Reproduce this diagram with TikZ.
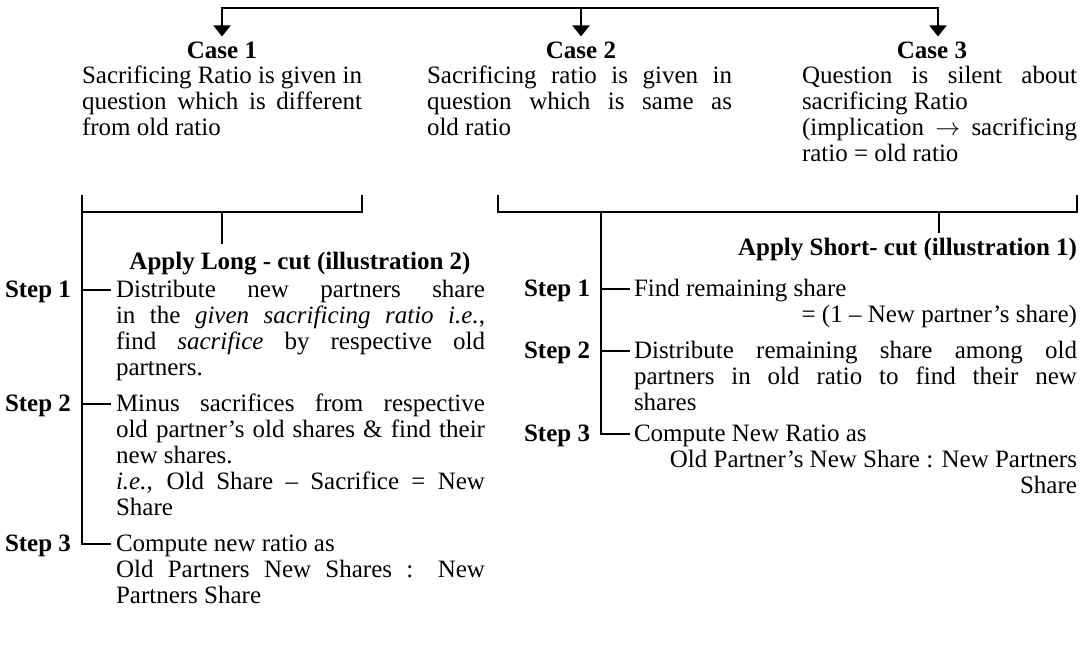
\documentclass[tikz,border=0pt]{standalone}
\usepackage{fontspec}
\setmainfont{Liberation Serif}
\usetikzlibrary{arrows.meta}
\begin{document}
\begin{tikzpicture}[x=1pt,y=-1pt,
  line width=2pt,
  txt/.style={font=\fontsize{25}{26}\selectfont, inner sep=0pt, outer sep=0pt, anchor=base west, align=justify},
  lbl/.style={font=\fontsize{25}{26}\selectfont\bfseries, inner sep=0pt, outer sep=0pt},
  arr/.style={-{Triangle[width=17pt,length=11pt]}},
]
\useasboundingbox (0,0) rectangle (1090,667);

% ---- cases ----
\node[lbl, anchor=base, inner ysep=5pt] (c1) at (222,58) {Case 1};
\node[lbl, anchor=base, inner ysep=5pt] (c2) at (581,58) {Case 2};
\node[lbl, anchor=base, inner ysep=5pt] (c3) at (932,58) {Case 3};

\coordinate (a1) at (222,8);
\coordinate (a3) at (938,8);
\draw[arr] (a3) -- (a1) -- (c1.north);
\draw[arr] (a1) -- (a3) -- (a3 |- c3.north);
\draw[arr] (c2.north |- a1) -- (c2.north);

\node[txt, text width=280pt] (t1) at (82,83) {Sacrificing Ratio is given in\linebreak question which is different\linebreak from old ratio};
\node[txt, text width=305pt] (t2) at (427,83) {Sacrificing ratio is given in\linebreak question which is same as\linebreak old ratio};
\node[txt, text width=275pt] (t3) at (802,83) {Question is silent about\linebreak sacrificing Ratio\\ (implication $\rightarrow$ sacrificing\linebreak ratio = old ratio};

% ---- left branch ----
\coordinate (lv) at (82,195);
\coordinate (lb) at (82,212);
\coordinate (lm) at (222,212);
\coordinate (lr) at (362,212);
\draw (lb) -- (lr) -- (lr |- lv);

\node[lbl, anchor=base, inner ysep=8pt] (h1) at (300,269) {Apply Long - cut (illustration 2)};
\draw (lm) -- (lm |- h1.north);

\node[lbl, anchor=base east] (ls1l) at (71,297) {Step 1};
\node[txt, text width=369pt] (ls1) at (116,297) {Distribute new partners share\linebreak in the \textit{given sacrificing ratio i.e.},\linebreak find \textit{sacrifice} by respective old\linebreak partners.};
\node[lbl, anchor=base east] (ls2l) at (71,411) {Step 2};
\node[txt, text width=369pt] (ls2) at (116,411) {Minus sacrifices from respective\linebreak old partner's old shares \& find their\linebreak new shares.\\ \textit{i.e.}, Old Share – Sacrifice = New\linebreak Share};
\node[lbl, anchor=base east] (ls3l) at (71,551) {Step 3};
\node[txt, text width=369pt] (ls3) at (116,551) {Compute new ratio as\\ Old Partners New Shares : New\linebreak Partners Share};

\coordinate (lt1) at ([xshift=-5pt,yshift=7pt]ls1.base west);
\coordinate (lt2) at ([xshift=-5pt,yshift=7pt]ls2.base west);
\coordinate (lt3) at ([xshift=-5pt,yshift=7pt]ls3.base west);
\draw (lv) |- (lt3);
\draw (lv |- lt1) -- (lt1);
\draw (lv |- lt2) -- (lt2);

% ---- right branch ----
\coordinate (rl) at (498,195);
\coordinate (rv) at (601,212);
\coordinate (rm) at (939,212);
\coordinate (rr) at (1077,195);
\draw (rl) |- (rr |- rv) -- (rr);

\node[lbl, anchor=base east, inner ysep=5pt] (h2) at (1077,255) {Apply Short- cut (illustration 1)};
\draw (rm) -- (rm |- h2.north);

\node[lbl, anchor=base east] (rs1l) at (590,296) {Step 1};
\node[txt, text width=443pt] (rs1) at (634,296) {Find remaining share\\ \hspace*{\fill}= (1 – New partner's share)};
\node[lbl, anchor=base east] (rs2l) at (590,358) {Step 2};
\node[txt, text width=443pt] (rs2) at (634,358) {Distribute remaining share among old\linebreak partners in old ratio to find their new\linebreak shares};
\node[lbl, anchor=base east] (rs3l) at (590,441) {Step 3};
\node[txt, text width=443pt] (rs3) at (634,441) {Compute New Ratio as\\ \hspace*{\fill}Old Partner's New Share : New Partners\\ \hspace*{\fill}Share};

\coordinate (rt1) at ([xshift=-4pt,yshift=7pt]rs1.base west);
\coordinate (rt2) at ([xshift=-4pt,yshift=7pt]rs2.base west);
\coordinate (rt3) at ([xshift=-4pt,yshift=7pt]rs3.base west);
\draw (rv) |- (rt3);
\draw (rv |- rt1) -- (rt1);
\draw (rv |- rt2) -- (rt2);
\end{tikzpicture}
\end{document}
